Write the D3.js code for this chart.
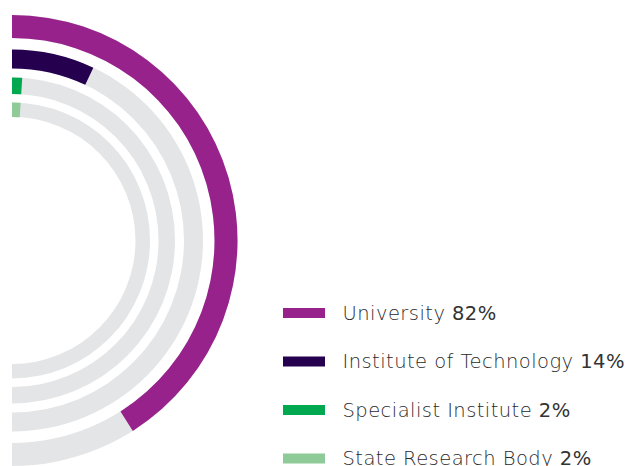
<!DOCTYPE html>
<html>
<head>
<meta charset="utf-8">
<script src="https://cdn.jsdelivr.net/npm/d3@7"></script>
<style>
  html, body { margin: 0; padding: 0; background: #fff; }
  svg { display: block; }
</style>
</head>
<body>
<div id="chart"></div>
<script>
// ── Data ──────────────────────────────────────────────────────────────────────
const CATEGORIES = ["University", "Institute of Technology", "Specialist Institute", "State Research Body"];
const VALUES     = [82, 14, 2, 2];
const COLORS     = ["#98228c", "#24004f", "#00a94f", "#8ecb98"];

// ── Dimensions ────────────────────────────────────────────────────────────────
const W = 634, H = 466;
const cx = 12, cy = 240.5;
// ring bands, outermost first [inner, outer]
const RINGS = [[202.5, 225.5], [172, 191], [146.5, 163], [123.5, 138]];
const TRACK = "#e4e5e7";

const svg = d3.select("#chart").append("svg")
  .attr("width", W).attr("height", H);

// ── Scales ────────────────────────────────────────────────────────────────────
// 0–100% mapped onto the right half circle, top to bottom
const angle = d3.scaleLinear().domain([0, 100]).range([0, Math.PI]);

const arc = d3.arc();

const rings = svg.append("g").attr("transform", `translate(${cx},${cy})`);

CATEGORIES.forEach((cat, i) => {
  const [r0, r1] = RINGS[i];
  rings.append("path")   // grey track
    .attr("d", arc({ innerRadius: r0, outerRadius: r1, startAngle: angle(0), endAngle: angle(100) }))
    .attr("fill", TRACK);
  rings.append("path")   // value
    .attr("d", arc({ innerRadius: r0, outerRadius: r1, startAngle: angle(0), endAngle: angle(VALUES[i]) }))
    .attr("fill", COLORS[i]);
});

// ── Legend ────────────────────────────────────────────────────────────────────
const legend = svg.append("g").attr("transform", "translate(283,313)");
CATEGORIES.forEach((cat, i) => {
  const row = legend.append("g").attr("transform", `translate(0,${i * 48.5})`);
  row.append("rect")
    .attr("x", 0).attr("y", -5).attr("width", 42).attr("height", 10)
    .attr("fill", COLORS[i]);
  const t = row.append("text")
    .attr("x", 59.5).attr("y", 6.5)
    .style("font-family", "'DejaVu Sans', sans-serif")
    .style("font-size", "19.5px")
    .style("letter-spacing", "0.45px");
  t.append("tspan").attr("fill", "#2a2a2a").style("font-weight", 200).text(cat + " ");
  t.append("tspan").attr("fill", "#333").style("font-weight", 400).text(VALUES[i] + "%");
});
</script>
</body>
</html>
